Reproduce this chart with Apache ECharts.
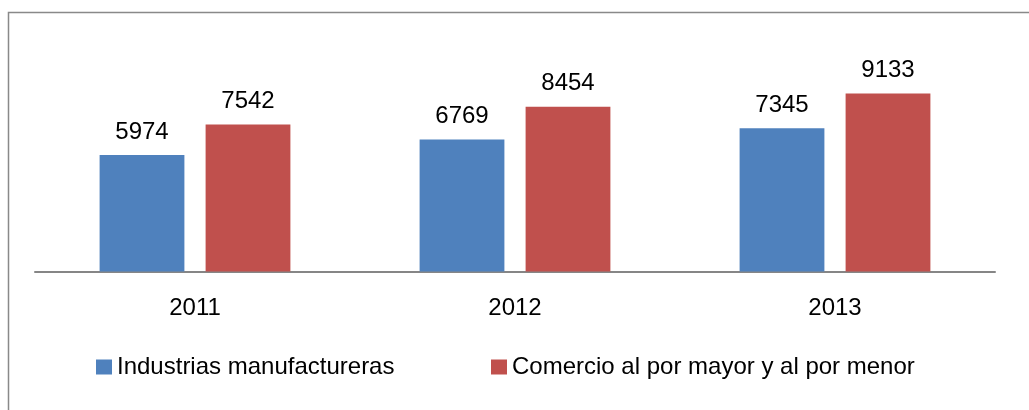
<!DOCTYPE html>
<html>
<head>
<meta charset="utf-8">
<script src="https://cdn.jsdelivr.net/npm/echarts@6/dist/echarts.min.js"></script>
<style>
  html, body { margin: 0; padding: 0; background: #fff; }
  #chart { width: 1029px; height: 410px; }
</style>
</head>
<body>
<div id="chart"></div>
<script>
const years = ['2011', '2012', '2013']
const industria = [5974, 6769, 7345]
const comercio = [7542, 8454, 9133]
const seriesNames = ['Industrias manufactureras', 'Comercio al por mayor y al por menor']

const FONT = 'Liberation Sans'
const chart = echarts.init(document.getElementById('chart'))

const labelStyle = {
  show: true,
  position: 'top',
  distance: 11,
  fontFamily: FONT,
  fontSize: 24,
  color: '#000'
}

const option = {
  animation: false,
  color: ['#4F81BD', '#C0504D'],
  graphic: [{
    type: 'rect',
    shape: { x: 8.5, y: 12.5, width: 1100, height: 500 },
    style: { fill: 'none', stroke: '#898989', lineWidth: 1.5 },
    silent: true
  }],
  grid: { left: 35, right: 34, top: 76.6, bottom: 138.5 },
  legend: [
    {
      data: [seriesNames[0]],
      left: 91, top: 350,
      itemWidth: 16, itemHeight: 15,
      icon: 'rect',
      textStyle: { fontFamily: FONT, fontSize: 24, color: '#000' }
    },
    {
      data: [seriesNames[1]],
      left: 486, top: 350,
      itemWidth: 16, itemHeight: 15,
      icon: 'rect',
      textStyle: { fontFamily: FONT, fontSize: 24, color: '#000' }
    }
  ],
  xAxis: {
    type: 'category',
    data: years,
    axisLine: { lineStyle: { color: '#868686', width: 2 } },
    axisTick: { show: false },
    axisLabel: { margin: 25, fontFamily: FONT, fontSize: 24, color: '#000' }
  },
  yAxis: {
    type: 'value',
    min: 0,
    max: 10000,
    show: false,
    splitLine: { show: false }
  },
  series: [
    {
      name: seriesNames[0],
      type: 'bar',
      data: industria,
      barWidth: '26.5%',
      barGap: '25%',
      label: labelStyle
    },
    {
      name: seriesNames[1],
      type: 'bar',
      data: comercio,
      barWidth: '26.5%',
      barGap: '25%',
      label: labelStyle
    }
  ]
}

chart.setOption(option)
</script>
</body>
</html>
